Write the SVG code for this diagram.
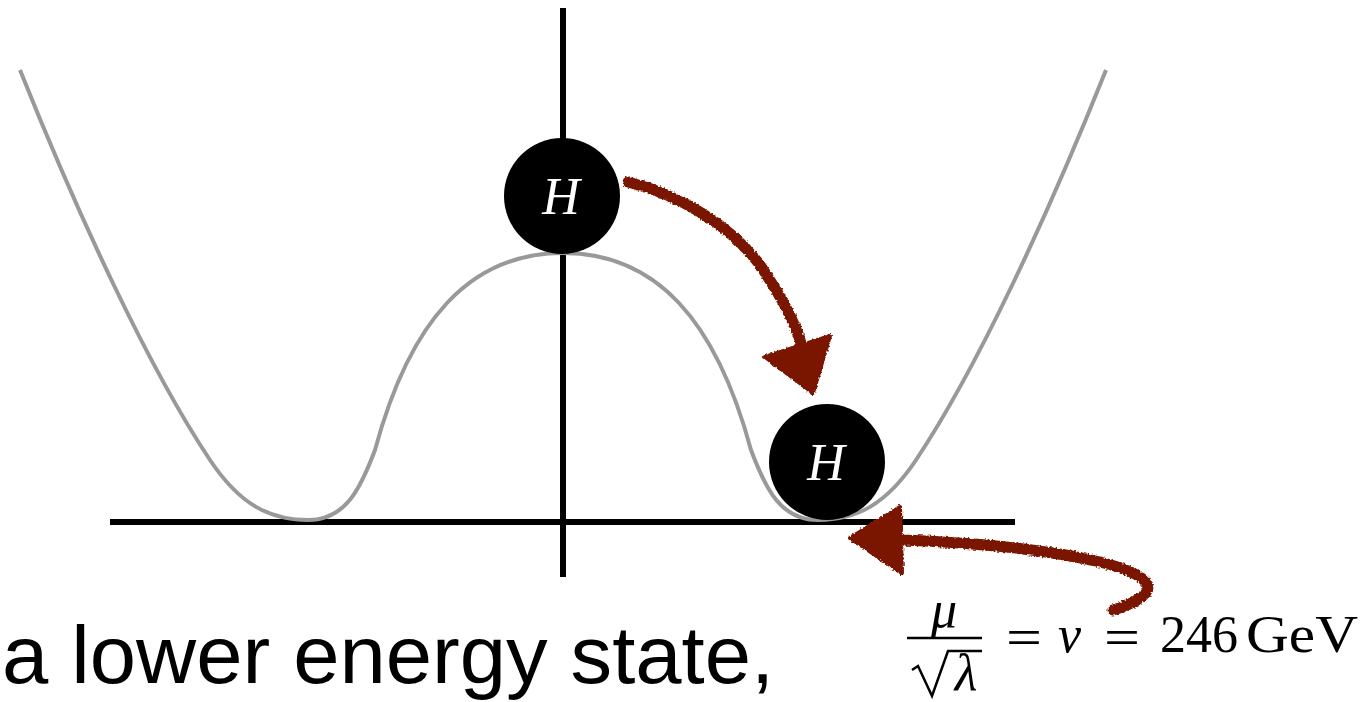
<svg xmlns="http://www.w3.org/2000/svg" width="1361" height="702" viewBox="0 0 1361 702">
<style>
.axis{stroke:#000;stroke-width:6;fill:none}
.curve{stroke:#999;stroke-width:4;fill:none}
.ball{fill:#000}
.hl{font-family:"Liberation Serif",serif;font-style:italic;font-size:52px;fill:#fff;text-anchor:middle}
.brush{stroke:#7a1500;stroke-width:11;fill:none;stroke-linecap:round;filter:url(#rough)}
.head{fill:#7a1500;stroke:#7a1500;stroke-width:4;stroke-linejoin:round;filter:url(#rough)}
.math{font-family:"Liberation Serif",serif;font-size:52px;fill:#000}
.it{font-style:italic}
</style>
<defs>
<filter id="rough" x="-20%" y="-20%" width="140%" height="140%">
<feTurbulence type="fractalNoise" baseFrequency="0.5" numOctaves="2" seed="3" result="n"/>
<feDisplacementMap in="SourceGraphic" in2="n" scale="4" xChannelSelector="R" yChannelSelector="G"/>
</filter>
</defs>
<rect width="1361" height="702" fill="#fff"/>
<g id="axes">
<line class="axis" x1="563" y1="8" x2="563" y2="577"/>
<line class="axis" x1="110" y1="522" x2="1015" y2="522"/>
</g>
<g id="potential">
<path class="curve" d="M20,70 C80,220 150,370 210,460 C240,505 270,520 308,520 C345,520 360,490 375,450 C410,320 470,253 563,253 C656,253 716,320 751,450 C766,490 781,520 818,520 C856,520 886,505 916,460 C976,370 1046,220 1106,70"/>
</g>
<g id="ball-top">
<circle class="ball" cx="562" cy="196" r="58"/>
<text class="hl" x="561" y="214">H</text>
</g>
<g id="ball-bottom">
<circle class="ball" cx="827" cy="462" r="58"/>
<text class="hl" x="826" y="480">H</text>
</g>
<g id="connectors">
<path class="brush" d="M628,182 C680,195 730,225 760,265 C780,295 795,320 803,350"/>
<polygon class="head" points="765,357 830,336 813,393"/>
<path class="brush" d="M898,540 C960,542 1040,548 1100,562 C1140,572 1160,585 1140,598 C1130,605 1120,608 1113,610"/>
<polygon class="head" points="850,538 900,507 902,573"/>
</g>
<g id="caption">
<text x="2" y="683" font-family="Gill Sans,'Liberation Sans',sans-serif" font-size="82" textLength="772" lengthAdjust="spacingAndGlyphs" fill="#000">a lower energy state,</text>
</g>
<g id="formula">
<text class="math it" x="944" y="627" text-anchor="middle">μ</text>
<line x1="907" y1="638" x2="982" y2="638" stroke="#000" stroke-width="2.5"/>
<path d="M912,670 L918,666 L932,696 L948,651 L982,651" fill="none" stroke="#000" stroke-width="2.5" stroke-linejoin="miter"/>
<text class="math it" x="966" y="690" text-anchor="middle">λ</text>
<text class="math" x="1006" y="655" textLength="36" lengthAdjust="spacingAndGlyphs">=</text>
<text class="math it" x="1058" y="652">v</text>
<text class="math" x="1104" y="655" textLength="36" lengthAdjust="spacingAndGlyphs">=</text>
<text class="math" x="1160" y="652">246</text>
<text class="math" x="1246" y="652" textLength="112" lengthAdjust="spacingAndGlyphs">GeV</text>
</g>
</svg>
